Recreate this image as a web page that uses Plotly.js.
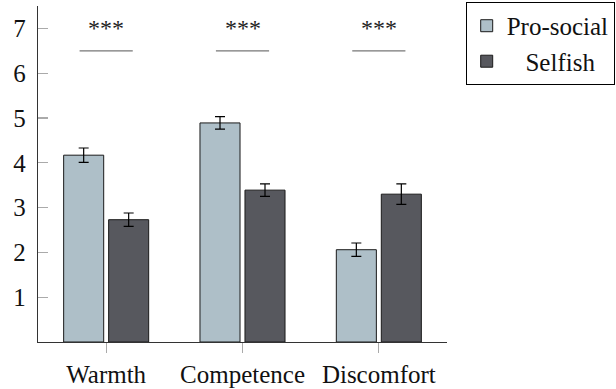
<!DOCTYPE html>
<html>
<head>
<meta charset="utf-8">
<script src="https://cdn.plot.ly/plotly-3.0.1.min.js"></script>
<style>
html,body{margin:0;padding:0;background:#fff;}
#chart{width:616px;height:389px;}
#chart svg text{font-family:'Liberation Serif' !important;}
</style>
</head>
<body>
<div id="chart"></div>
<script>
const categories = ['Warmth', 'Competence', 'Discomfort'];
const seriesNames = ['Pro-social', 'Selfish'];
const prosocialValues = [4.17, 4.89, 2.06];
const prosocialErrors = [0.16, 0.14, 0.15];
const selfishValues = [2.73, 3.39, 3.30];
const selfishErrors = [0.15, 0.14, 0.23];
const sigLabels = ['***', '***', '***'];
const sigLineY = 6.5;
const sigStarY = 7.0;
const yTicks = [1, 2, 3, 4, 5, 6, 7];

const FONT = 'Liberation Serif';

function draw() {
  const traces = [
    {
      type: 'bar', name: seriesNames[0], x: categories, y: prosocialValues,
      marker: {color: '#aebfc8', line: {color: '#1a1a1a', width: 1}},
      error_y: {type: 'data', array: prosocialErrors, visible: true, color: '#000', thickness: 1.2, width: 5}
    },
    {
      type: 'bar', name: '\u00a0\u00a0\u00a0' + seriesNames[1], x: categories, y: selfishValues,
      marker: {color: '#57585e', line: {color: '#1a1a1a', width: 1}},
      error_y: {type: 'data', array: selfishErrors, visible: true, color: '#000', thickness: 1.2, width: 5}
    }
  ];

  const shapes = categories.map((c, i) => ({
    type: 'line', xref: 'x', yref: 'y',
    x0: i - 0.195, x1: i + 0.195, y0: sigLineY, y1: sigLineY,
    line: {color: '#777', width: 1.3}
  }));

  const annotations = categories.map((c, i) => ({
    xref: 'x', yref: 'y', x: i, y: sigStarY, text: sigLabels[i],
    showarrow: false, yanchor: 'middle', xanchor: 'center',
    font: {family: FONT, size: 24, color: '#222'}
  }));

  const layout = {
    width: 616, height: 389,
    margin: {l: 38, r: 169, t: 6, b: 47, autoexpand: false},
    paper_bgcolor: '#fff', plot_bgcolor: '#fff',
    barmode: 'group', bargap: 0.34, bargroupgap: 0.11,
    font: {family: FONT, size: 25, color: '#111'},
    showlegend: true,
    legend: {
      x: 1.41, y: 1.012, xanchor: 'right', yanchor: 'top',
      bordercolor: '#000', borderwidth: 1, bgcolor: '#fff',
      font: {family: FONT, size: 25, color: '#111'},
      tracegroupgap: 0, itemwidth: 30
    },
    xaxis: {
      type: 'category', range: [-0.5, 2.5],
      showline: true, linecolor: '#333', linewidth: 1.2,
      ticks: 'outside', ticklen: 10, tickcolor: '#aaa', tickwidth: 1.2,
      showgrid: false, zeroline: false, fixedrange: true,
      tickfont: {family: FONT, size: 25, color: '#111'}
    },
    yaxis: {
      range: [0, 7.5], tickvals: yTicks, ticktext: yTicks.map(String),
      showline: true, linecolor: '#333', linewidth: 1.2,
      ticks: 'inside', ticklen: 10, tickcolor: '#aaa', tickwidth: 1.2,
      ticklabelstandoff: 6,
      showgrid: false, zeroline: false, fixedrange: true,
      tickfont: {family: FONT, size: 25, color: '#111'}
    },
    shapes: shapes,
    annotations: annotations
  };

  return Plotly.newPlot('chart', traces, layout, {displayModeBar: false, staticPlot: true});
}

if (document.fonts && document.fonts.load) {
  document.fonts.load('25px "Liberation Serif"').then(draw, draw);
} else {
  draw();
}
</script>
</body>
</html>
